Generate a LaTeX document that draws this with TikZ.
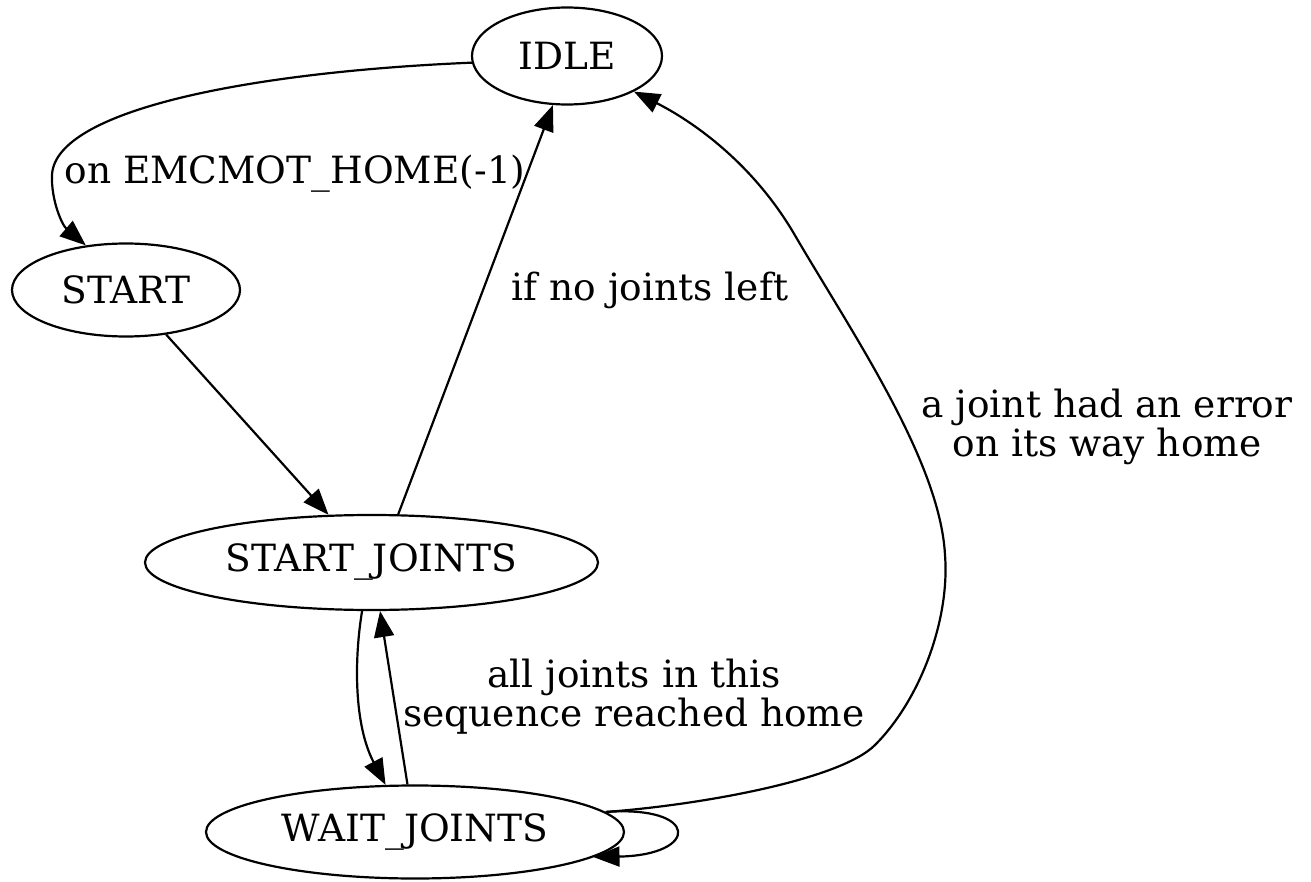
\documentclass[tikz,border=0pt]{standalone}
\usepackage{fontspec}
\setmainfont{DejaVu Serif}
\usetikzlibrary{shapes.geometric,arrows.meta}
\begin{document}
\begin{tikzpicture}[x=1pt,y=-1pt,
  state/.style={ellipse, draw, line width=2.2pt, inner sep=0pt, font=\fontsize{37.5}{42}\selectfont},
  edge/.style={line width=2.2pt, -{Triangle[length=26pt,width=20pt]}},
  lbl/.style={font=\fontsize{37.5}{39}\selectfont, align=center, inner sep=0pt}]
\useasboundingbox (0,0) rectangle (1311,882);
\node[state, minimum width=190pt, minimum height=97pt] (IDLE) at (567,56) {IDLE};
\node[state, minimum width=228pt, minimum height=93pt] (START) at (126,290) {START};
\node[state, minimum width=453pt, minimum height=95pt] (SJ) at (371.5,562.5) {START\_JOINTS};
\node[state, minimum width=418pt, minimum height=93pt] (WJ) at (415,832) {WAIT\_JOINTS};

\draw[edge] (IDLE.184) .. controls (250,72) and (55,110) .. (52,175) .. controls (51,200) and (62,225) .. (START.132);
\draw[edge] (START) -- (SJ);
\draw[edge] (SJ.61) -- (IDLE.254);
\draw[edge] (SJ.259) .. controls (354,660) and (354,725) .. (WJ.122);
\draw[edge] (WJ.99) -- (SJ.280);
\draw[edge] (WJ.6) .. controls (700,805) and (840,780) .. (875,745) .. controls (920,700) and (950,620) .. (945,555) .. controls (940,460) and (850,330) .. (793,232) .. controls (750,160) and (690,120) .. (IDLE.-28);
\draw[edge] (WJ.6) .. controls (700,805) and (700,855) .. (WJ.-8);

\node[lbl] (L1) at (295,174) {on EMCMOT\_HOME(-1)};
\node[lbl] (L2) at (650,290) {if no joints left};
\node[lbl] (L3) at (634,697) {all joints in this\\sequence reached home};
\node[lbl] (L4) at (1107,427) {a joint had an error\\on its way home};
\end{tikzpicture}
\end{document}
